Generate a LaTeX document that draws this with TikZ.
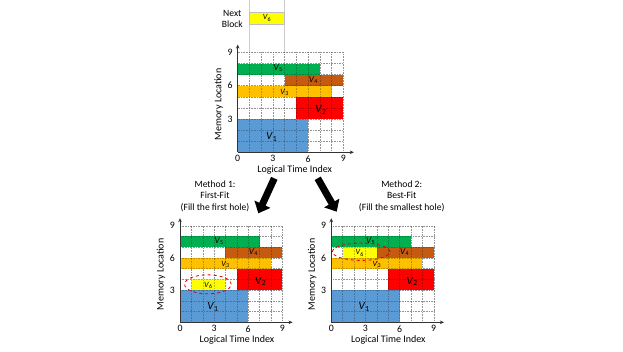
\documentclass[tikz,border=0pt]{standalone}
\usepackage{fontspec}
\setmainfont{Carlito}
\usetikzlibrary{arrows.meta}
\definecolor{cblue}{RGB}{91,155,213}
\definecolor{cred}{RGB}{255,0,0}
\definecolor{cgold}{RGB}{255,192,0}
\definecolor{cbrown}{RGB}{197,90,17}
\definecolor{cgreen}{RGB}{0,176,80}
\definecolor{cyel}{RGB}{255,255,0}
\newcommand\vlab[1]{\textit{V}\textsubscript{#1}}
\tikzset{
  gridl/.style={gray!45, line width=0.45pt, dash pattern=on 0.7pt off 0.9pt},
  gridover/.style={black, opacity=0.25, line width=0.45pt, dash pattern=on 0.7pt off 0.9pt},
  axisl/.style={black!80, line width=0.6pt, -{Stealth[length=4pt,width=3.6pt]}},
  tick/.style={inner sep=0pt, font=\fontsize{9.8}{11}\selectfont},
  ttl/.style={inner sep=0pt, font=\fontsize{10}{11}\selectfont},
  vbig/.style={inner sep=0pt, font=\fontsize{11}{12}\selectfont},
  vmid/.style={inner sep=0pt, font=\fontsize{9}{10}\selectfont},
  vsml/.style={inner sep=0pt, font=\fontsize{8}{9}\selectfont},
  holemark/.style={red!85!black, dashed, line width=0.8pt},
  bigarrow/.style={line width=7pt, -{Triangle[width=17pt,length=10pt]}},
  method/.style={inner sep=0pt, align=center, font=\fontsize{9.6}{11.2}\selectfont},
}
\newcommand\gridlines[1]{%
  \foreach \k in {1,...,9} {
    \draw[#1] (\k,0) -- (\k,9);
    \draw[#1] (0,\k) -- (9,\k);
  }%
}
% #1 prefix, #2 extra bars drawn before the grid overlay
\newcommand\memchart[2]{%
  \gridlines{gridl}
  \fill[cblue] (0,0) rectangle (6,3);
  \fill[cred] (5,3) rectangle (9,5);
  \fill[cgold] (0,5) rectangle (8,6);
  \fill[cbrown] (4,6) rectangle (9,7);
  \fill[cgreen] (0,7) rectangle (7,8);
  #2
  \gridlines{gridover}
  \coordinate (#1-o) at (0,0);
  \coordinate (#1-xe) at (9.9,0);
  \coordinate (#1-ye) at (0,9.7);
  \draw[axisl] (#1-o) -- (#1-xe);
  \draw[axisl] (#1-o) -- (#1-ye);
  \foreach \k in {0,3,6,9} \node[tick] (#1-x\k) at ([yshift=-6.5pt]\k,0) {\k};
  \foreach \k in {3,6,9} \node[tick] (#1-y\k) at ([xshift=-7.7pt]0,\k) {\k};
  \node[vbig] (#1-v1) at (2.9,1.4) {\vlab{1}};
  \node[vbig] (#1-v2) at (7.1,3.8) {\vlab{2}};
  \node[vsml] (#1-v3) at (4.0,5.4) {\vlab{3}};
  \node[vmid] (#1-v4) at (6.45,6.5) {\vlab{4}};
  \node[vmid] (#1-v5) at (3.45,7.6) {\vlab{5}};
  \node[ttl] (#1-xt) at ([xshift=57pt,yshift=-17.7pt]0,0) {Logical Time Index};
  \node[ttl, rotate=90] (#1-yt) at ([xshift=-19pt,yshift=48pt]0,0) {Memory Location};
}
\begin{document}
\begin{tikzpicture}[x=1pt, y=-1pt]
\fill[white] (0,0) rectangle (623,351);
\useasboundingbox (0,0) rectangle (623,351);
% top chart
\begin{scope}[shift={(237.7,152.3)}, x=11.73pt, y=11.1pt]
  \draw[gray!40, line width=0.5pt] (1,9) -- (1,13.72);
  \draw[gray!40, line width=0.5pt] (4,9) -- (4,13.72);
  \memchart{t}{}
  \fill[cyel, draw=gray!50, line width=0.3pt] (1,11.56) rectangle (4,12.64);
  \node[vsml] (t-v6) at (2.5,12.1) {\vlab{6}};
\end{scope}
\node[method] (nb) at (232.3,18.7) {Next\\Block};
% bottom left
\begin{scope}[shift={(180,322.3)}, x=11.37pt, y=10.73pt]
  \memchart{a}{\fill[cyel] (1,3) rectangle (4,4);}
  \node[vsml] (a-v6) at (2.5,3.45) {\vlab{6}};
  \draw[holemark] (2.45,3.54) ellipse [x radius=23.3pt, y radius=9.5pt];
\end{scope}
% bottom right
\begin{scope}[shift={(331.3,322.3)}, x=11.38pt, y=10.73pt]
  \memchart{b}{\fill[cyel] (1,6) rectangle (4,7);}
  \node[vsml] (b-v6) at (2.5,6.45) {\vlab{6}};
  \draw[holemark] (2.62,6.58) ellipse [x radius=28.7pt, y radius=8.7pt];
\end{scope}
\node[method] (m1) at (215,196.3) {Method 1:\\First-Fit\\(Fill the first hole)};
\node[method] (m2) at (401.7,196.3) {Method 2:\\Best-Fit\\(Fill the smallest hole)};
\coordinate (a1s) at (274.3,178.3);
\coordinate (a1e) at (258.3,213.3);
\coordinate (a2s) at (317.7,178.3);
\coordinate (a2e) at (336.7,211.7);
\draw[bigarrow] (a1s) -- (a1e);
\draw[bigarrow] (a2s) -- (a2e);
\end{tikzpicture}
\end{document}
